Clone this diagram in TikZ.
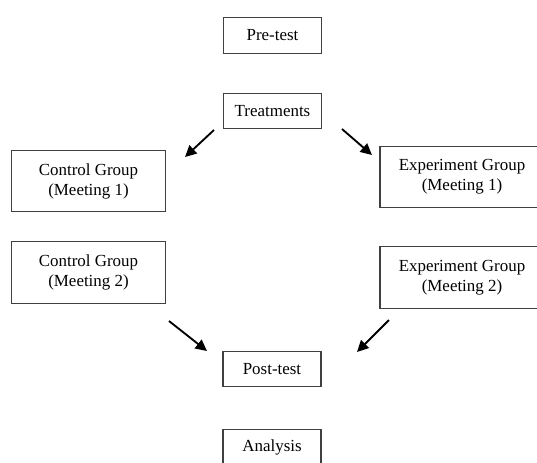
\documentclass[tikz,border=0pt]{standalone}
\usepackage{fontspec}
\setmainfont{Liberation Serif}
\usetikzlibrary{arrows.meta}

\begin{document}
\begin{tikzpicture}[x=0.75pt,y=-0.75pt,
    stagebox/.style={draw=black!75,line width=0.8pt,align=center,inner sep=0pt,
        font=\fontsize{12.7}{15}\selectfont},
    smallbox/.style={stagebox,minimum width=73.5pt,minimum height=26.5pt},
    groupbox/.style={stagebox,minimum width=115pt,minimum height=46pt},
    flow/.style={line width=1.4pt,arrows={-Triangle[length=3mm,width=2.9mm]}}]
                \useasboundingbox (0,0) rectangle (537,462);
                \clip (0,0) rectangle (537,462);

                \node[smallbox] (pretest) at (272.5,35.5) {Pre-test};
                \node[smallbox] (treat) at (272.5,111) {Treatments};
                \node[groupbox] (ctrl1) at (88.5,181) {Control Group\\(Meeting 1)};
                \node[groupbox,minimum width=123pt] (exp1) at (462,177) {Experiment Group\\(Meeting 1)};
                \node[groupbox] (ctrl2) at (88.5,272.5) {Control Group\\(Meeting 2)};
                \node[groupbox,minimum width=123pt] (exp2) at (462,277.5) {Experiment Group\\(Meeting 2)};
                \node[smallbox] (post) at (272,369) {Post-test};
                \node[smallbox] (analysis) at (272,447) {Analysis};

                % free arrow ends
                \coordinate (t1) at (214,130);
                \coordinate (c1) at (185,157);
                \coordinate (t2) at (342,129);
                \coordinate (e1) at (372,155);
                \coordinate (c2) at (169,321);
                \coordinate (p1) at (207,351);
                \coordinate (e2) at (389,320);
                \coordinate (p2) at (357,352);

                \draw[flow] (t1) -- (c1);
                \draw[flow] (t2) -- (e1);
                \draw[flow] (c2) -- (p1);
                \draw[flow] (e2) -- (p2);
\end{tikzpicture}
\end{document}
